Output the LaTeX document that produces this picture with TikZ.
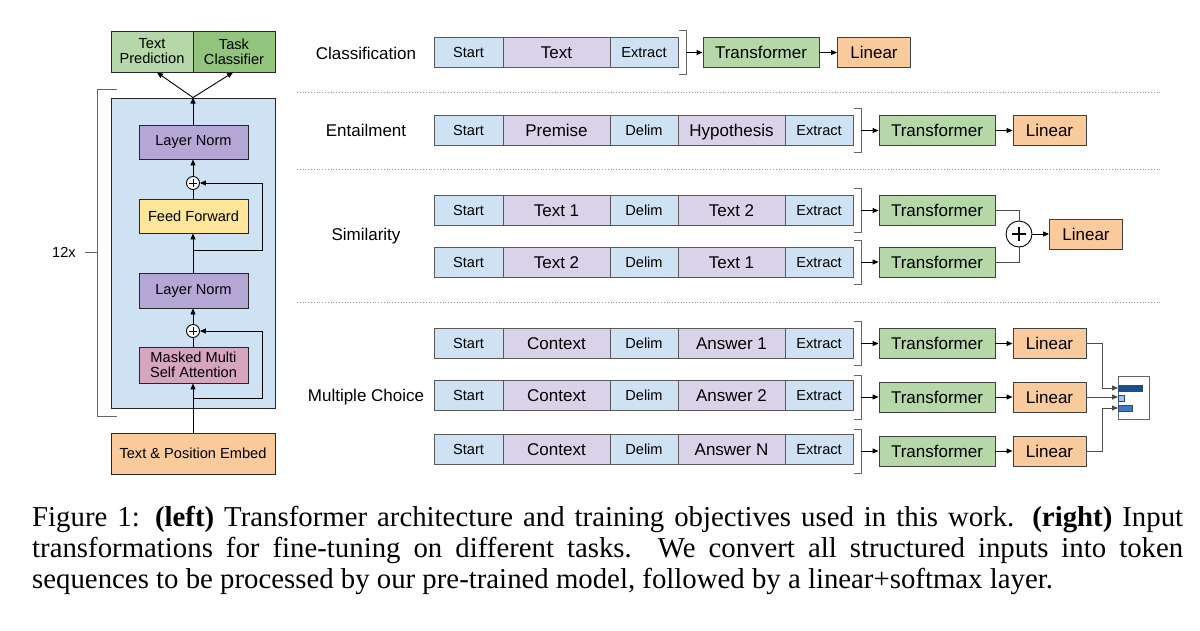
\documentclass[tikz,border=0pt]{standalone}
\usepackage{fontspec}
\setmainfont{Liberation Sans}
\newfontfamily\capfont{Liberation Serif}
\usetikzlibrary{arrows.meta,calc}
\definecolor{tokblue}{HTML}{CFE2F3}
\definecolor{tokpurp}{HTML}{D9D2E9}
\definecolor{trgreen}{HTML}{B6D7A8}
\definecolor{dkgreen}{HTML}{93C47D}
\definecolor{linorange}{HTML}{F9CB9C}
\definecolor{lnpurp}{HTML}{B4A7D6}
\definecolor{ffyellow}{HTML}{FFE599}
\definecolor{mmpink}{HTML}{D5A6BD}
\definecolor{blkblue}{HTML}{CFE2F3}
\definecolor{bardark}{HTML}{1F4E8C}
\definecolor{barmid}{HTML}{3D7ABF}
\definecolor{barlight}{HTML}{9FC5E8}
\newcommand\fontS{\fontsize{14.6}{17}\selectfont}
\newcommand\fontL{\fontsize{17}{20}\selectfont}
\newcommand\tokrow[4]{%
  \node[tokb, minimum width=69pt] (#1s) at (468.5,#2) {Start};
  \node[tokp, minimum width=107pt] (#1a) at (556.5,#2) {#3};
  \node[tokb, minimum width=68pt] (#1d) at (644,#2) {Delim};
  \node[tokp, minimum width=107pt] (#1b) at (731.5,#2) {#4};
  \node[tokb, minimum width=68pt] (#1e) at (819,#2) {Extract};
}
\newcommand\brkt[3]{%
  \draw[brk] (#2-7,#3-22) -- (#2,#3-22) -- (#2,#3+22) -- (#2-7,#3+22);
  \coordinate (#1) at (#2,#3);
}
\begin{document}
\begin{tikzpicture}[x=1pt,y=-1pt,
  box/.style={draw=black!85, line width=0.9pt, inner sep=0pt, align=center, font=\fontS},
  tokb/.style={draw=black!65, line width=0.9pt, fill=tokblue, inner sep=0pt, minimum height=30pt, font=\fontS, text height=10.5pt, text depth=0pt},
  tokp/.style={draw=black!65, line width=0.9pt, fill=tokpurp, inner sep=0pt, minimum height=30pt, font=\fontL, text height=12.2pt, text depth=0pt},
  trans/.style={draw=black!75, line width=0.9pt, fill=trgreen, inner sep=0pt, minimum width=116pt, minimum height=30pt, font=\fontL, text height=12.2pt, text depth=0pt},
  lin/.style={draw=black!75, line width=0.9pt, fill=linorange, inner sep=0pt, minimum width=73pt, minimum height=30pt, font=\fontL, text height=12.2pt, text depth=0pt},
  lab/.style={font=\fontL, text height=12.2pt, text depth=0pt},
  arr/.style={line width=0.9pt, -{Triangle[length=6pt,width=5pt]}},
  garr/.style={draw=black!70, line width=0.8pt, -{Triangle[length=6pt,width=5pt]}},
  gline/.style={draw=black!70, line width=0.8pt},
  brk/.style={draw=black!60, line width=0.9pt},
  sep/.style={draw=black!40, line width=0.8pt, dotted},
  plusc/.style={draw=black, line width=0.9pt, circle, fill=white, inner sep=0pt},
]
\useasboundingbox (0,0) rectangle (1200,630);

% ---------------- left: architecture ----------------
\node[box, fill=trgreen, minimum width=82pt, minimum height=41pt] (tp) at (152,51.5) {Text\\[-2pt]Prediction};
\node[box, fill=dkgreen, minimum width=82pt, minimum height=41pt] (tc) at (234,51.5) {Task\\[-2pt]Classifier};

\node[box, fill=blkblue, minimum width=164pt, minimum height=310pt] (blk) at (193,253) {};
\node[box, fill=lnpurp, minimum width=109pt, minimum height=34pt] (ln1) at (193.5,142) {Layer Norm};
\node[plusc, minimum size=13pt] (p1) at (193,183) {};
\node[box, fill=ffyellow, minimum width=109pt, minimum height=34pt] (ff) at (193.5,216) {Feed Forward};
\node[box, fill=lnpurp, minimum width=109pt, minimum height=35pt] (ln2) at (193.5,290.5) {Layer Norm};
\node[plusc, minimum size=13pt] (p2) at (193,331) {};
\node[box, fill=mmpink, minimum width=109pt, minimum height=36pt] (mm) at (193.5,365) {Masked Multi\\[-2pt]Self Attention};
\node[box, fill=linorange, minimum width=164pt, minimum height=41pt] (emb) at (193,453.5) {Text \& Position Embed};

\foreach \p in {p1,p2}{
  \draw[line width=0.9pt] ($(\p.center)+(-4,0)$) -- ($(\p.center)+(4,0)$);
  \draw[line width=0.9pt] ($(\p.center)+(0,-4)$) -- ($(\p.center)+(0,4)$);
}

\coordinate (r2) at (262,398);
\coordinate (r1) at (262,250);
\draw[arr] (emb.north -| p2) -- (mm.south -| p2);
\draw[arr] (p2 |- r2) -- (r2) |- (p2.east);
\draw[line width=0.9pt] (mm.north -| p2) -- (p2.south);
\draw[arr] (p2.north) -- (ln2.south -| p2);
\draw[arr] (ln2.north -| p1) -- (ff.south -| p1);
\draw[arr] (p1 |- r1) -- (r1) |- (p1.east);
\draw[line width=0.9pt] (ff.north -| p1) -- (p1.south);
\draw[arr] (p1.north) -- (ln1.south -| p1);
\draw[arr] (ln1.north -| p1) -- (blk.north -| p1);
\draw[arr] (blk.north -| p1) -- ([xshift=5pt]tp.south);
\draw[arr] (blk.north -| p1) -- ([xshift=-1pt]tc.south);

\draw[brk] (117,89) -- (97,89) -- (97,416) -- (117,416);
\draw[brk] (85,252) -- (97,252);
\node[font=\fontS] (rep) at (64,252) {12x};

% ---------------- right: tasks ----------------
\draw[sep] (297,92) -- (1160,92);
\draw[sep] (297,169) -- (1160,169);
\draw[sep] (297,302) -- (1160,302);

% Classification
\node[lab] (lcls) at (366,53) {Classification};
\node[tokb, minimum width=69pt] (cs) at (468.5,52.5) {Start};
\node[tokp, minimum width=107pt] (ca) at (556.5,52.5) {Text};
\node[tokb, minimum width=68pt] (ce) at (644,52.5) {Extract};
\brkt{bc}{686}{52.5}
\node[trans] (tcls) at (761,52.5) {Transformer};
\node[lin] (lcl) at (874,52.5) {Linear};
\draw[arr] (bc) -- (tcls.west);
\draw[arr] (tcls.east) -- (lcl.west);

% Entailment
\node[lab] (lent) at (366,130) {Entailment};
\tokrow{e}{130.5}{Premise}{Hypothesis}
\brkt{be}{861}{130.5}
\node[trans] (tent) at (937,130.5) {Transformer};
\node[lin] (len) at (1049.5,130.5) {Linear};
\draw[arr] (be) -- (tent.west);
\draw[arr] (tent.east) -- (len.west);

% Similarity
\node[lab] (lsim) at (366,234) {Similarity};
\tokrow{sa}{210.5}{Text 1}{Text 2}
\tokrow{sb}{262}{Text 2}{Text 1}
\brkt{bsa}{861}{210.5}
\brkt{bsb}{861}{262}
\node[trans] (tsa) at (937,210.5) {Transformer};
\node[trans] (tsb) at (937,262) {Transformer};
\draw[arr] (bsa) -- (tsa.west);
\draw[arr] (bsb) -- (tsb.west);
\node[plusc, minimum size=26pt] (ps) at (1019,234) {};
\draw[line width=1.2pt] ($(ps.center)+(-7,0)$) -- ($(ps.center)+(7,0)$);
\draw[line width=1.2pt] ($(ps.center)+(0,-7)$) -- ($(ps.center)+(0,7)$);
\node[lin] (lsm) at (1086,234) {Linear};
\draw[gline] (tsa.east) -| (ps.north);
\draw[gline] (tsb.east) -| (ps.south);
\draw[arr] (ps.east) -- (lsm.west);

% Multiple choice
\node[lab] (lmc) at (366,395) {Multiple Choice};
\tokrow{ma}{343.5}{Context}{Answer 1}
\tokrow{mb}{395}{Context}{Answer 2}
\tokrow{mc}{449}{Context}{Answer N}
\brkt{bma}{861}{343.5}
\brkt{bmb}{861}{397}
\brkt{bmc}{861}{451}
\node[trans] (tma) at (937,343.5) {Transformer};
\node[trans] (tmb) at (937,397) {Transformer};
\node[trans] (tmc) at (937,451) {Transformer};
\node[lin] (lma) at (1049.5,343.5) {Linear};
\node[lin] (lmb) at (1049.5,397) {Linear};
\node[lin] (lmc2) at (1049.5,451) {Linear};
\foreach \t/\l/\b in {tma/lma/bma,tmb/lmb/bmb,tmc/lmc2/bmc}{
  \draw[arr] (\b) -- (\t.west);
  \draw[arr] (\t.east) -- (\l.west);
}
\node[draw=black!60, line width=0.9pt, fill=white, minimum width=31pt, minimum height=43pt, inner sep=0pt] (ob) at (1133.5,397.5) {};
\node[draw=bardark, line width=0.6pt, fill=bardark, anchor=west, minimum width=24pt, minimum height=6pt, inner sep=0pt] (bar1) at (1118,388) {};
\node[draw=bardark, line width=0.6pt, fill=barlight, anchor=west, minimum width=6pt, minimum height=6pt, inner sep=0pt] (bar2) at (1118,398) {};
\node[draw=bardark, line width=0.6pt, fill=barmid, anchor=west, minimum width=14pt, minimum height=6pt, inner sep=0pt] (bar3) at (1118,408) {};
\coordinate (ja) at (1102,388);
\coordinate (jc) at (1102,408);
\draw[garr] (lma.east) -| (ja) -- (bar1.west);
\draw[garr] (lmb.east) -- (lmb.east -| bar2.west);
\draw[garr] (lmc2.east) -| (jc) -- (bar3.west);

% ---------------- caption ----------------
\node[anchor=north west, inner sep=0pt, text width=1151pt, align=justify,
      font=\capfont\fontsize{28.8}{31}\selectfont] (cap) at (32,506)
{\hyphenpenalty=10000 Figure 1: \textbf{(left)} Transformer architecture and training objectives used in this work. \textbf{(right)} Input\linebreak
transformations for fine-tuning on different tasks.\ \ We convert all structured inputs into token\linebreak
sequences to be processed by our pre-trained model, followed by a linear+softmax layer.};
\end{tikzpicture}
\end{document}
